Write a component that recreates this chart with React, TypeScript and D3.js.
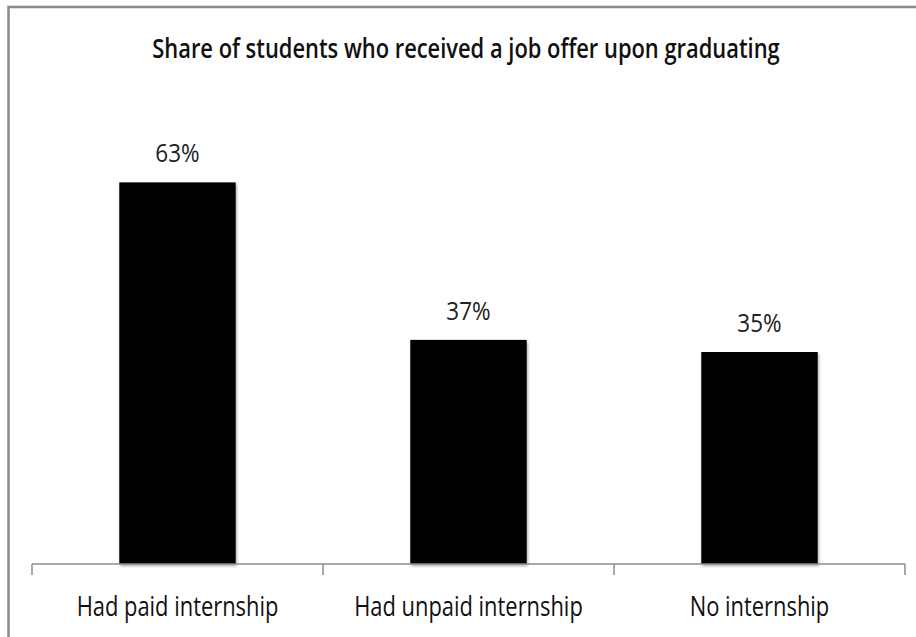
import React from "react";
import * as d3 from "d3";

const categories = ["Had paid internship", "Had unpaid internship", "No internship"];
const values = [63, 37, 35];
const valueLabels = ["63%", "37%", "35%"];
const title = "Share of students who received a job offer upon graduating";

const W = 916;
const H = 637;

export default function App() {
  const x = d3.scaleBand<string>().domain(categories).range([32, 905]).paddingInner(0.6).paddingOuter(0.3);
  const y = d3.scaleLinear().domain([0, 70]).range([564, 140]);
  const step = x.step();
  const ticks = [0, 1, 2, 3].map((i) => 32 + i * step);
  const font = "'Open Sans', 'Noto Sans', sans-serif";
  return (
    <div style={{ position: "absolute", left: 0, top: 0, width: W, height: H, background: "#fff" }}>
      <svg width={W} height={H} style={{ display: "block" }}>
        <defs>
          <filter id="sh" x="-10%" y="-10%" width="130%" height="130%">
            <feDropShadow dx="1" dy="2" stdDeviation="1.5" floodColor="#000" floodOpacity="0.35" />
          </filter>
        </defs>
        <rect x={8.5} y={7} width={W + 20} height={H + 20} fill="#fff" stroke="#8a8a8a" strokeWidth={2.5} />
        <g transform={`translate(466,58) scale(1,1.25)`}>
          <text textAnchor="middle" fontFamily={font} fontSize={21.9} fontWeight={600} fill="#111">
            {title}
          </text>
        </g>
        {categories.map((c, i) => (
          <rect
            key={c}
            x={x(c)}
            y={y(values[i])}
            width={x.bandwidth()}
            height={y(0) - y(values[i])}
            fill="#000"
            filter="url(#sh)"
          />
        ))}
        <line x1={32} x2={905} y1={564} y2={564} stroke="#8c8c8c" strokeWidth={1.5} />
        {ticks.map((t, i) => (
          <line key={i} x1={t} x2={t} y1={564} y2={575} stroke="#8c8c8c" strokeWidth={1.5} />
        ))}
        {categories.map((c, i) => (
          <g key={c} transform={`translate(${(x(c) as number) + x.bandwidth() / 2},${y(values[i]) - 20}) scale(1,1.12)`}>
            <text textAnchor="middle" fontFamily={font} fontSize={22.5} fill="#222">
              {valueLabels[i]}
            </text>
          </g>
        ))}
        {categories.map((c) => (
          <g key={c} transform={`translate(${(x(c) as number) + x.bandwidth() / 2},616) scale(1,1.28)`}>
            <text textAnchor="middle" fontFamily={font} fontSize={21.9} fill="#111">
              {c}
            </text>
          </g>
        ))}
      </svg>
    </div>
  );
}
